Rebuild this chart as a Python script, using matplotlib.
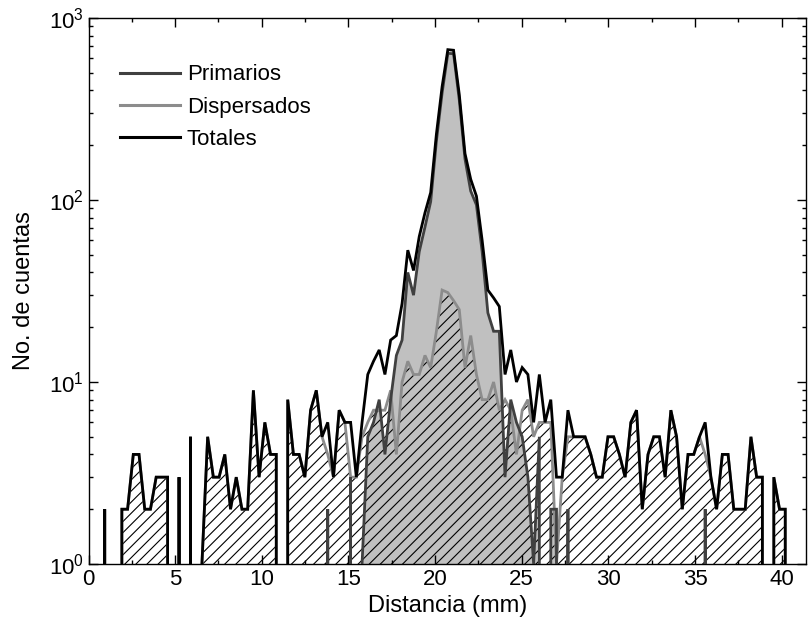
import numpy as np
import matplotlib
matplotlib.use('Agg')
import matplotlib.pyplot as plt
from matplotlib.ticker import MultipleLocator, LogLocator, NullFormatter
from matplotlib.lines import Line2D

plt.rcParams['font.family'] = ['Liberation Sans', 'DejaVu Sans']
plt.rcParams['hatch.linewidth'] = 0.8
plt.rcParams['hatch.color'] = 'black'

# bin grid (mm)
x_start = 0.275
bin_width = 0.33
n_bins = 123
distancia = x_start + bin_width * np.arange(n_bins)

# counts per bin
primarios = [
    0, 0, 0, 0, 0, 0, 0, 0, 0, 0,
    0, 0, 0, 0, 0, 0, 0, 0, 0, 0,
    0, 0, 0, 0, 0, 0, 0, 0, 0, 0,
    0, 0, 0, 0, 0, 0, 0, 0, 0, 0,
    0, 2, 0, 0, 0, 3, 0, 1, 5, 6,
    8, 4, 8, 14, 17, 40, 30, 52, 71, 98,
    211, 388, 639, 637, 355, 168, 112, 94, 52, 24,
    19, 19, 3, 8, 6, 5, 3, 1, 5, 0,
    2, 2, 0, 2, 0, 0, 0, 0, 0, 0,
    0, 0, 0, 0, 0, 0, 0, 0, 0, 0,
    0, 0, 0, 0, 0, 0, 0, 2, 0, 0,
    0, 0, 0, 0, 0, 0, 0, 0, 0, 0,
    0, 0, 0,
]
dispersados = [
    0, 0, 2, 0, 0, 2, 2, 4, 4, 2,
    2, 3, 3, 3, 0, 3, 0, 5, 0, 1,
    5, 3, 3, 4, 2, 3, 2, 2, 9, 3,
    6, 4, 4, 0, 8, 4, 4, 3, 7, 9,
    5, 4, 3, 7, 6, 3, 3, 5, 6, 7,
    7, 7, 9, 4, 10, 13, 11, 11, 14, 12,
    19, 32, 31, 28, 25, 12, 18, 11, 8, 8,
    10, 7, 8, 7, 4, 7, 8, 5, 6, 6,
    6, 1, 3, 5, 5, 5, 5, 4, 3, 3,
    5, 5, 4, 3, 6, 7, 2, 4, 5, 5,
    3, 7, 5, 2, 4, 4, 5, 4, 3, 2,
    4, 4, 2, 2, 2, 5, 3, 3, 0, 3,
    2, 2, 0,
]
totales = np.array(primarios) + np.array(dispersados)

labels = ['Primarios', 'Dispersados', 'Totales']
colors = ['#404040', '#8c8c8c', '#000000']

fig = plt.figure(figsize=(8.08, 6.33), dpi=100)
ax = fig.add_axes([88.5 / 808, 69 / 633, (806 - 88.5) / 808, (564 - 18) / 633])
ax.set_yscale('log', nonpositive='clip')

ax.fill_between(distancia, primarios, 1e-3, facecolor='#c0c0c0', edgecolor='none', zorder=1)
ax.fill_between(distancia, dispersados, 1e-3, facecolor='none', edgecolor='black',
                hatch='///', linewidth=0, zorder=2)

ax.plot(distancia, dispersados, color=colors[1], lw=2.0, zorder=3, solid_joinstyle='miter')
ax.plot(distancia, primarios, color=colors[0], lw=2.0, zorder=4, solid_joinstyle='miter')
ax.plot(distancia, totales, color=colors[2], lw=2.0, zorder=5, solid_joinstyle='miter')

ax.set_xlim(0, (806 - 88.5) / 17.33)
ax.set_ylim(1, 1000)

ax.xaxis.set_major_locator(MultipleLocator(5))
ax.xaxis.set_minor_locator(MultipleLocator(2.5))
ax.yaxis.set_major_locator(LogLocator(base=10))
ax.yaxis.set_minor_locator(LogLocator(base=10, subs=np.arange(2, 10)))
ax.yaxis.set_minor_formatter(NullFormatter())

ax.tick_params(which='both', direction='in', top=True, right=True, labelsize=16)
ax.tick_params(which='major', length=6.5, width=1)
ax.tick_params(which='minor', length=3.2, width=1)
for s in ax.spines.values():
    s.set_linewidth(1.0)

ax.set_xlabel('Distancia (mm)', fontsize=17, labelpad=4)
ax.set_ylabel('No. de cuentas', fontsize=17, labelpad=10)

handles = [Line2D([], [], color=c, lw=2.2) for c in colors]
ax.legend(handles, labels, loc='upper left', bbox_to_anchor=(0.044, 0.915),
          frameon=False, fontsize=16, handlelength=2.7, handletextpad=0.3,
          labelspacing=0.5, borderpad=0, borderaxespad=0)

fig.savefig('out.png', dpi=100)
